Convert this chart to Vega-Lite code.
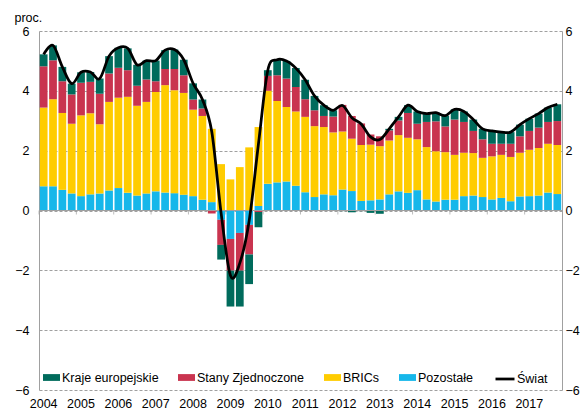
{
  "$schema": "https://vega.github.io/schema/vega-lite/v6.json",
  "width": 523,
  "height": 359,
  "autosize": "none",
  "padding": {"left": 39, "top": 31, "right": 25, "bottom": 21},
  "background": "white",
  "config": {
    "font": "Liberation Sans",
    "view": {"stroke": null},
    "axis": {"labelFont": "Liberation Sans", "labelFontSize": 12.5, "labelColor": "#000000"},
    "legend": {"labelFont": "Liberation Sans", "labelFontSize": 12.5, "labelColor": "#000000", "padding": 0}
  },
  "data": {
    "values": [
      {"okres": "2004 Q1", "Pozostałe": 0.81, "BRICs": 2.63, "Stany Zjednoczone": 1.38, "Kraje europejskie": 0.40, "Świat": 5.22},
      {"okres": "2004 Q2", "Pozostałe": 0.81, "BRICs": 2.91, "Stany Zjednoczone": 1.30, "Kraje europejskie": 0.50, "Świat": 5.52},
      {"okres": "2004 Q3", "Pozostałe": 0.69, "BRICs": 2.57, "Stany Zjednoczone": 1.06, "Kraje europejskie": 0.48, "Świat": 4.80},
      {"okres": "2004 Q4", "Pozostałe": 0.57, "BRICs": 2.33, "Stany Zjednoczone": 0.98, "Kraje europejskie": 0.36, "Świat": 4.24},
      {"okres": "2005 Q1", "Pozostałe": 0.48, "BRICs": 2.70, "Stany Zjednoczone": 1.09, "Kraje europejskie": 0.35, "Świat": 4.62},
      {"okres": "2005 Q2", "Pozostałe": 0.54, "BRICs": 2.71, "Stany Zjednoczone": 1.05, "Kraje europejskie": 0.33, "Świat": 4.63},
      {"okres": "2005 Q3", "Pozostałe": 0.57, "BRICs": 2.31, "Stany Zjednoczone": 1.02, "Kraje europejskie": 0.51, "Świat": 4.41},
      {"okres": "2005 Q4", "Pozostałe": 0.67, "BRICs": 2.96, "Stany Zjednoczone": 0.95, "Kraje europejskie": 0.58, "Świat": 5.16},
      {"okres": "2006 Q1", "Pozostałe": 0.75, "BRICs": 3.02, "Stany Zjednoczone": 1.00, "Kraje europejskie": 0.67, "Świat": 5.44},
      {"okres": "2006 Q2", "Pozostałe": 0.59, "BRICs": 3.21, "Stany Zjednoczone": 0.89, "Kraje europejskie": 0.73, "Świat": 5.42},
      {"okres": "2006 Q3", "Pozostałe": 0.50, "BRICs": 3.00, "Stany Zjednoczone": 0.67, "Kraje europejskie": 0.70, "Świat": 4.87},
      {"okres": "2006 Q4", "Pozostałe": 0.57, "BRICs": 3.06, "Stany Zjednoczone": 0.75, "Kraje europejskie": 0.63, "Świat": 5.01},
      {"okres": "2007 Q1", "Pozostałe": 0.64, "BRICs": 3.32, "Stany Zjednoczone": 0.36, "Kraje europejskie": 0.69, "Świat": 5.01},
      {"okres": "2007 Q2", "Pozostałe": 0.60, "BRICs": 3.59, "Stany Zjednoczone": 0.54, "Kraje europejskie": 0.63, "Świat": 5.36},
      {"okres": "2007 Q3", "Pozostałe": 0.58, "BRICs": 3.44, "Stany Zjednoczone": 0.71, "Kraje europejskie": 0.65, "Świat": 5.38},
      {"okres": "2007 Q4", "Pozostałe": 0.53, "BRICs": 3.40, "Stany Zjednoczone": 0.59, "Kraje europejskie": 0.52, "Świat": 5.04},
      {"okres": "2008 Q1", "Pozostałe": 0.48, "BRICs": 2.89, "Stany Zjednoczone": 0.34, "Kraje europejskie": 0.54, "Świat": 4.25},
      {"okres": "2008 Q2", "Pozostałe": 0.36, "BRICs": 2.80, "Stany Zjednoczone": 0.25, "Kraje europejskie": 0.30, "Świat": 3.71},
      {"okres": "2008 Q3", "Pozostałe": 0.28, "BRICs": 2.45, "Stany Zjednoczone": -0.10, "Kraje europejskie": 0.00, "Świat": 2.63},
      {"okres": "2008 Q4", "Pozostałe": -0.31, "BRICs": 1.55, "Stany Zjednoczone": -0.84, "Kraje europejskie": -0.49, "Świat": -0.09},
      {"okres": "2009 Q1", "Pozostałe": -0.95, "BRICs": 1.04, "Stany Zjednoczone": -1.06, "Kraje europejskie": -1.20, "Świat": -2.17},
      {"okres": "2009 Q2", "Pozostałe": -0.75, "BRICs": 1.45, "Stany Zjednoczone": -1.26, "Kraje europejskie": -1.20, "Świat": -1.76},
      {"okres": "2009 Q3", "Pozostałe": -0.48, "BRICs": 2.11, "Stany Zjednoczone": -0.99, "Kraje europejskie": -0.99, "Świat": -0.35},
      {"okres": "2009 Q4", "Pozostałe": 0.15, "BRICs": 2.64, "Stany Zjednoczone": -0.05, "Kraje europejskie": -0.51, "Świat": 2.23},
      {"okres": "2010 Q1", "Pozostałe": 0.89, "BRICs": 3.11, "Stany Zjednoczone": 0.50, "Kraje europejskie": 0.19, "Świat": 4.69},
      {"okres": "2010 Q2", "Pozostałe": 0.94, "BRICs": 2.72, "Stany Zjednoczone": 0.86, "Kraje europejskie": 0.52, "Świat": 5.04},
      {"okres": "2010 Q3", "Pozostałe": 0.97, "BRICs": 2.49, "Stany Zjednoczone": 0.95, "Kraje europejskie": 0.59, "Świat": 5.00},
      {"okres": "2010 Q4", "Pozostałe": 0.83, "BRICs": 2.48, "Stany Zjednoczone": 0.82, "Kraje europejskie": 0.63, "Świat": 4.76},
      {"okres": "2011 Q1", "Pozostałe": 0.61, "BRICs": 2.52, "Stany Zjednoczone": 0.59, "Kraje europejskie": 0.65, "Świat": 4.37},
      {"okres": "2011 Q2", "Pozostałe": 0.45, "BRICs": 2.37, "Stany Zjednoczone": 0.53, "Kraje europejskie": 0.48, "Świat": 3.83},
      {"okres": "2011 Q3", "Pozostałe": 0.54, "BRICs": 2.25, "Stany Zjednoczone": 0.37, "Kraje europejskie": 0.36, "Świat": 3.52},
      {"okres": "2011 Q4", "Pozostałe": 0.51, "BRICs": 2.10, "Stany Zjednoczone": 0.53, "Kraje europejskie": 0.21, "Świat": 3.35},
      {"okres": "2012 Q1", "Pozostałe": 0.70, "BRICs": 1.94, "Stany Zjednoczone": 0.89, "Kraje europejskie": -0.02, "Świat": 3.51},
      {"okres": "2012 Q2", "Pozostałe": 0.65, "BRICs": 1.75, "Stany Zjednoczone": 0.76, "Kraje europejskie": -0.06, "Świat": 3.10},
      {"okres": "2012 Q3", "Pozostałe": 0.32, "BRICs": 1.87, "Stany Zjednoczone": 0.72, "Kraje europejskie": -0.02, "Świat": 2.89},
      {"okres": "2012 Q4", "Pozostałe": 0.34, "BRICs": 1.86, "Stany Zjednoczone": 0.34, "Kraje europejskie": -0.08, "Świat": 2.46},
      {"okres": "2013 Q1", "Pozostałe": 0.37, "BRICs": 1.78, "Stany Zjednoczone": 0.33, "Kraje europejskie": -0.11, "Świat": 2.37},
      {"okres": "2013 Q2", "Pozostałe": 0.54, "BRICs": 1.80, "Stany Zjednoczone": 0.34, "Kraje europejskie": 0.05, "Świat": 2.73},
      {"okres": "2013 Q3", "Pozostałe": 0.64, "BRICs": 1.88, "Stany Zjednoczone": 0.49, "Kraje europejskie": 0.12, "Świat": 3.13},
      {"okres": "2013 Q4", "Pozostałe": 0.59, "BRICs": 1.84, "Stany Zjednoczone": 0.83, "Kraje europejskie": 0.26, "Świat": 3.52},
      {"okres": "2014 Q1", "Pozostałe": 0.68, "BRICs": 1.70, "Stany Zjednoczone": 0.52, "Kraje europejskie": 0.41, "Świat": 3.31},
      {"okres": "2014 Q2", "Pozostałe": 0.37, "BRICs": 1.75, "Stany Zjednoczone": 0.84, "Kraje europejskie": 0.28, "Świat": 3.24},
      {"okres": "2014 Q3", "Pozostałe": 0.30, "BRICs": 1.68, "Stany Zjednoczone": 1.00, "Kraje europejskie": 0.29, "Świat": 3.27},
      {"okres": "2014 Q4", "Pozostałe": 0.36, "BRICs": 1.59, "Stany Zjednoczone": 0.86, "Kraje europejskie": 0.36, "Świat": 3.17},
      {"okres": "2015 Q1", "Pozostałe": 0.36, "BRICs": 1.50, "Stany Zjednoczone": 1.18, "Kraje europejskie": 0.34, "Świat": 3.38},
      {"okres": "2015 Q2", "Pozostałe": 0.48, "BRICs": 1.45, "Stany Zjednoczone": 1.03, "Kraje europejskie": 0.35, "Świat": 3.31},
      {"okres": "2015 Q3", "Pozostałe": 0.50, "BRICs": 1.42, "Stany Zjednoczone": 0.74, "Kraje europejskie": 0.38, "Świat": 3.04},
      {"okres": "2015 Q4", "Pozostałe": 0.45, "BRICs": 1.31, "Stany Zjednoczone": 0.62, "Kraje europejskie": 0.35, "Świat": 2.73},
      {"okres": "2016 Q1", "Pozostałe": 0.37, "BRICs": 1.44, "Stany Zjednoczone": 0.42, "Kraje europejskie": 0.43, "Świat": 2.66},
      {"okres": "2016 Q2", "Pozostałe": 0.42, "BRICs": 1.44, "Stany Zjednoczone": 0.37, "Kraje europejskie": 0.39, "Świat": 2.62},
      {"okres": "2016 Q3", "Pozostałe": 0.31, "BRICs": 1.48, "Stany Zjednoczone": 0.44, "Kraje europejskie": 0.39, "Świat": 2.62},
      {"okres": "2016 Q4", "Pozostałe": 0.47, "BRICs": 1.46, "Stany Zjednoczone": 0.55, "Kraje europejskie": 0.39, "Świat": 2.87},
      {"okres": "2017 Q1", "Pozostałe": 0.48, "BRICs": 1.55, "Stany Zjednoczone": 0.63, "Kraje europejskie": 0.41, "Świat": 3.07},
      {"okres": "2017 Q2", "Pozostałe": 0.50, "BRICs": 1.59, "Stany Zjednoczone": 0.68, "Kraje europejskie": 0.47, "Świat": 3.24},
      {"okres": "2017 Q3", "Pozostałe": 0.60, "BRICs": 1.63, "Stany Zjednoczone": 0.73, "Kraje europejskie": 0.48, "Świat": 3.44},
      {"okres": "2017 Q4", "Pozostałe": 0.55, "BRICs": 1.64, "Stany Zjednoczone": 0.80, "Kraje europejskie": 0.56, "Świat": 3.55}
    ]
  },
  "encoding": {
    "x": {
      "field": "okres", "type": "ordinal",
      "scale": {"paddingInner": 0.17, "paddingOuter": 0.085},
      "axis": {
        "title": null, "domain": false, "ticks": false, "grid": false, "labelAngle": 0,
        "values": ["2004 Q1", "2005 Q1", "2006 Q1", "2007 Q1", "2008 Q1", "2009 Q1", "2010 Q1", "2011 Q1", "2012 Q1", "2013 Q1", "2014 Q1", "2015 Q1", "2016 Q1", "2017 Q1"],
        "labelExpr": "slice(datum.value, 0, 4)",
        "labelOverlap": false, "labelFlush": false, "labelBound": false, "labelPadding": 7,
        "labelFont": "Liberation Sans", "labelFontSize": 12.5, "labelColor": "#000000"
      }
    }
  },
  "layer": [
    {
      "transform": [
        {"fold": ["Pozostałe", "BRICs", "Stany Zjednoczone", "Kraje europejskie"], "as": ["seria", "wartosc"]},
        {"calculate": "indexof(['Pozostałe', 'BRICs', 'Stany Zjednoczone', 'Kraje europejskie'], datum.seria)", "as": "kolejnosc"}
      ],
      "mark": {"type": "bar"},
      "encoding": {
        "y": {
          "field": "wartosc", "type": "quantitative", "stack": "zero",
          "scale": {"domain": [-6, 6], "nice": false, "zero": false},
          "axis": {
            "orient": "left", "values": [-6, -4, -2, 0, 2, 4, 6],
            "grid": true, "gridColor": "#a0a0a0", "gridDash": [3, 2], "gridWidth": 1,
            "ticks": false, "tickSize": 0, "domainColor": "#a0a0a0", "domainWidth": 1,
            "labelPadding": 10,
            "title": "proc.", "titleAngle": 0, "titleAlign": "left", "titleBaseline": "alphabetic",
            "titleX": -25, "titleY": -10, "titleFontWeight": "normal", "titleFontSize": 12.5,
            "titleFont": "Liberation Sans", "titleColor": "#000000"
          }
        },
        "color": {
          "field": "seria", "type": "nominal",
          "scale": {
            "domain": ["Kraje europejskie", "Stany Zjednoczone", "BRICs", "Pozostałe"],
            "range": ["#006b5c", "#c9344f", "#ffcc00", "#16b7ea"]
          },
          "legend": {
            "orient": "none", "legendX": 4, "legendY": 338, "direction": "horizontal",
            "title": null, "symbolType": "M-1,-0.4H1V0.4H-1Z", "symbolSize": 289,
            "symbolStrokeWidth": 0, "labelOffset": 2, "columnPadding": 19
          }
        },
        "order": {"field": "kolejnosc", "type": "quantitative"}
      }
    },
    {
      "mark": {"type": "rule", "color": "#a0a0a0", "strokeWidth": 1},
      "encoding": {
        "x": null,
        "y": {"datum": 0, "type": "quantitative", "axis": null}
      }
    },
    {
      "transform": [{"filter": "indexof(datum.okres, 'Q1') > 0"}],
      "mark": {"type": "tick", "orient": "vertical", "size": 4, "yOffset": 2, "xOffset": -4.67, "thickness": 1, "color": "#a0a0a0"},
      "encoding": {
        "y": {"datum": 0, "type": "quantitative", "axis": null}
      }
    },
    {
      "mark": {"type": "line", "interpolate": "cardinal", "strokeWidth": 2.75},
      "encoding": {
        "y": {
          "field": "Świat", "type": "quantitative",
          "axis": {
            "orient": "right", "values": [-6, -4, -2, 0, 2, 4, 6], "grid": false,
            "ticks": false, "tickSize": 0, "domainColor": "#a0a0a0", "domainWidth": 1,
            "labelPadding": 3, "title": null
          }
        },
        "stroke": {
          "datum": "Świat", "type": "nominal",
          "scale": {"domain": ["Świat"], "range": ["#000000"]},
          "legend": {
            "orient": "none", "legendX": 455, "legendY": 337, "direction": "horizontal",
            "title": null, "symbolType": "stroke", "symbolSize": 361, "symbolStrokeWidth": 2.75,
            "labelOffset": 1
          }
        }
      }
    }
  ],
  "resolve": {"axis": {"y": "independent"}}
}
